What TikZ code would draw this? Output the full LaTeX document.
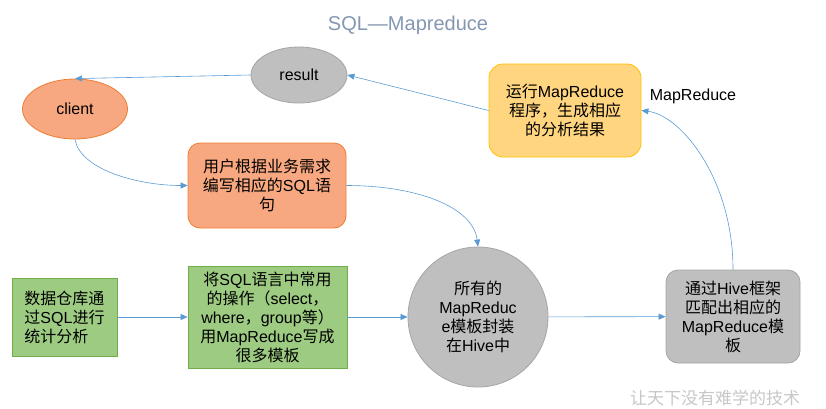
\documentclass[tikz,border=0pt]{standalone}
\usepackage{fontspec}
\setmainfont{Liberation Sans}
\newfontfamily\cjk{Noto Sans CJK SC}
\usetikzlibrary{arrows.meta,shapes.geometric}
% Chinese characters switch to the CJK font by themselves
\XeTeXinterchartokenstate=1
\newXeTeXintercharclass\zhclass
\count255="4E00
\loop\XeTeXcharclass\count255=\zhclass \advance\count255 by 1 \ifnum\count255<"A000 \repeat
\XeTeXcharclass"FF08=\zhclass \XeTeXcharclass"FF09=\zhclass \XeTeXcharclass"FF0C=\zhclass \XeTeXcharclass"3001=\zhclass
\XeTeXinterchartoks 0 \zhclass={\cjk}
\XeTeXinterchartoks 4095 \zhclass={\cjk}
\XeTeXinterchartoks \zhclass 0={\rmfamily}
\XeTeXinterchartoks \zhclass 4095={\rmfamily}
\definecolor{linkblue}{HTML}{5B9BD5}
\definecolor{titleblue}{HTML}{8497B0}
\definecolor{orangefill}{HTML}{F8A880}
\definecolor{orangeline}{HTML}{ED7D31}
\definecolor{grayfill}{HTML}{BFBFBF}
\definecolor{grayline}{HTML}{A5A5A5}
\definecolor{yellowfill}{HTML}{FFD57F}
\definecolor{yellowline}{HTML}{FFC000}
\definecolor{greenfill}{HTML}{9DCB82}
\definecolor{greenline}{HTML}{70AD47}
\tikzset{ell/.style={ellipse,draw=#1line,fill=#1fill,line width=0.8pt,inner sep=0pt},roundbox/.style={draw=#1line,fill=#1fill,line width=0.8pt,rounded corners=12pt,align=center,inner sep=2pt},greenbox/.style={draw=greenline,fill=greenfill,line width=0.8pt,inner sep=2pt},link/.style={-{Triangle[length=7pt,width=6pt]},draw=linkblue,line width=0.6pt}}

\begin{document}
\begin{tikzpicture}[x=1pt,y=-1pt,font=\fontsize{16}{19}\selectfont]
\useasboundingbox (0,0) rectangle (826,408);
\node[titleblue,font=\fontsize{20}{24}\selectfont] (title) at (408,25) {SQL—Mapreduce};
\node[ell=gray,minimum width=96pt,minimum height=56pt] (result) at (299,75) {result};
\node[ell=orange,minimum width=105pt,minimum height=60pt] (client) at (75,109) {client};
\node[roundbox=orange,minimum width=158pt,minimum height=85pt] (sqlwrite) at (267,185.5) {用户根据业务需求\\编写相应的SQL语\\句};
\node[roundbox=yellow,minimum width=152pt,minimum height=93pt,rounded corners=14pt] (runmr) at (565,110.5) {运行MapReduce\\程序，生成相应\\的分析结果};
\node (mrlabel) at (693,96) {MapReduce};
\node[greenbox,align=left,minimum width=105pt,minimum height=78pt] (warehouse) at (64.5,317) {数据仓库通\\过SQL进行\\统计分析};
\node[greenbox,align=center,minimum width=159pt,minimum height=102pt] (sqlops) at (267.5,317) {将SQL语言中常用\\的操作（select，\\where，group等）\\用MapReduce写成\\很多模板};
\node[circle,draw=grayline,fill=grayfill,line width=0.8pt,minimum size=140pt,align=center,inner sep=0pt] (mrtpl) at (478,317) {所有的\\MapReduc\\e模板封装\\在Hive中};
\node[roundbox=gray,minimum width=134pt,minimum height=93pt] (hivematch) at (733,316.5) {通过Hive框架\\匹配出相应的\\MapReduce模\\板};
\node[black!22,font=\cjk\fontsize{17}{20}\selectfont] (mark) at (715,398) {让天下没有难学的技术};
\draw[link] (result.west) -- (client.north);
\draw[link] (client.south) .. controls +(5,30) and +(-50,0) .. (sqlwrite.west);
\draw[link] (sqlwrite.east) .. controls +(70,0) and +(-5,-40) .. (mrtpl.north);
\draw[link] (warehouse) -- (sqlops);
\draw[link] (sqlops) -- (mrtpl);
\draw[link] (mrtpl) -- (hivematch);
\draw[link] (hivematch.north) .. controls +(0,-90) and +(40,5) .. (runmr.east);
\draw[link] (runmr.west) -- (result.east);
\end{tikzpicture}
\end{document}
